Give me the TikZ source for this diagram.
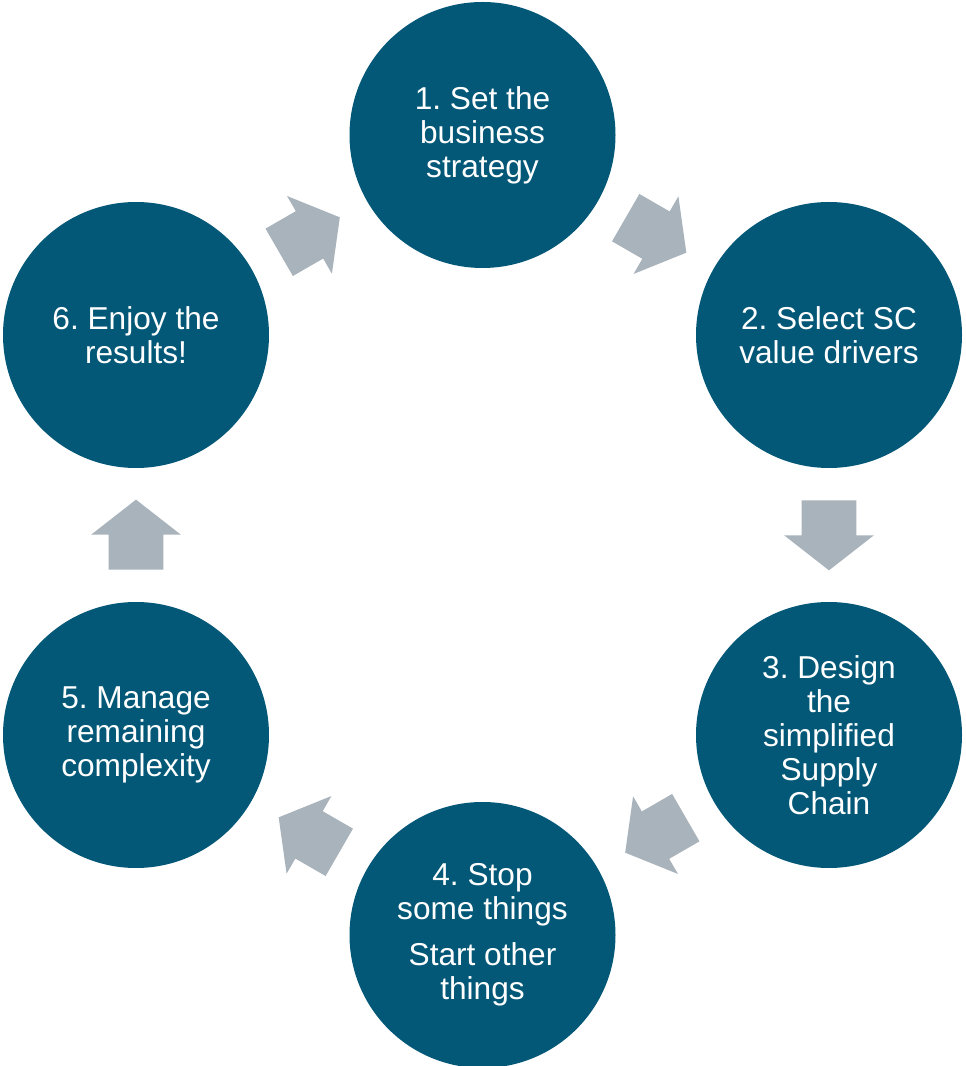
\documentclass[tikz,border=0pt]{standalone}
\usepackage{fontspec}
\setmainfont{Liberation Sans}
\usepackage{xcolor}
\usetikzlibrary{shapes.arrows,calc}
\frenchspacing

\definecolor{stepblue}{HTML}{035877}
\definecolor{arrowgray}{HTML}{A9B3BC}

\begin{document}
\begin{tikzpicture}
  [every node/.style={inner sep=0pt},
   stepnode/.style={circle,fill=stepblue,minimum size=5.32cm,align=center,text=white,
     font=\fontsize{18}{19.3}\selectfont},
   blockarr/.style={single arrow,fill=arrowgray,minimum height=1.4cm,inner xsep=0pt,inner ysep=0.54cm,
     single arrow head extend=0.35cm,single arrow tip angle=104,anchor=tail}] % steps are circles, arrows are block shapes
    \useasboundingbox (0,0) rectangle (19.3,21.32);

    \node[stepnode] (s1) at (9.65,18.62) {1. Set the\\business\\strategy};
    \node[stepnode] (s2) at (16.58,14.62) {2. Select SC\\value drivers};
    \node[stepnode] (s3) at (16.58,6.62)  {3. Design\\the\\simplified\\Supply\\Chain};
    \node[stepnode] (s4) at (9.65,2.62)   {4. Stop\\some things\\[6.8pt]Start other\\things};
    \node[stepnode] (s5) at (2.72,6.62)   {5. Manage\\remaining\\complexity};
    \node[stepnode] (s6) at (2.72,14.62)  {6. Enjoy the\\results!};

    % tail of each arrow sits 0.7cm before the midpoint of two steps
    \node[blockarr,rotate=-30] (a12) at ($(s1)!3.3cm!(s2)$) {};
    \node[blockarr,rotate=-90] (a23) at ($(s2)!3.3cm!(s3)$) {};
    \node[blockarr,rotate=210] (a34) at ($(s3)!3.3cm!(s4)$) {};
    \node[blockarr,rotate=150] (a45) at ($(s4)!3.3cm!(s5)$) {};
    \node[blockarr,rotate=90]  (a56) at ($(s5)!3.3cm!(s6)$) {};
    \node[blockarr,rotate=30]  (a61) at ($(s6)!3.3cm!(s1)$) {};

\end{tikzpicture}
\end{document}
